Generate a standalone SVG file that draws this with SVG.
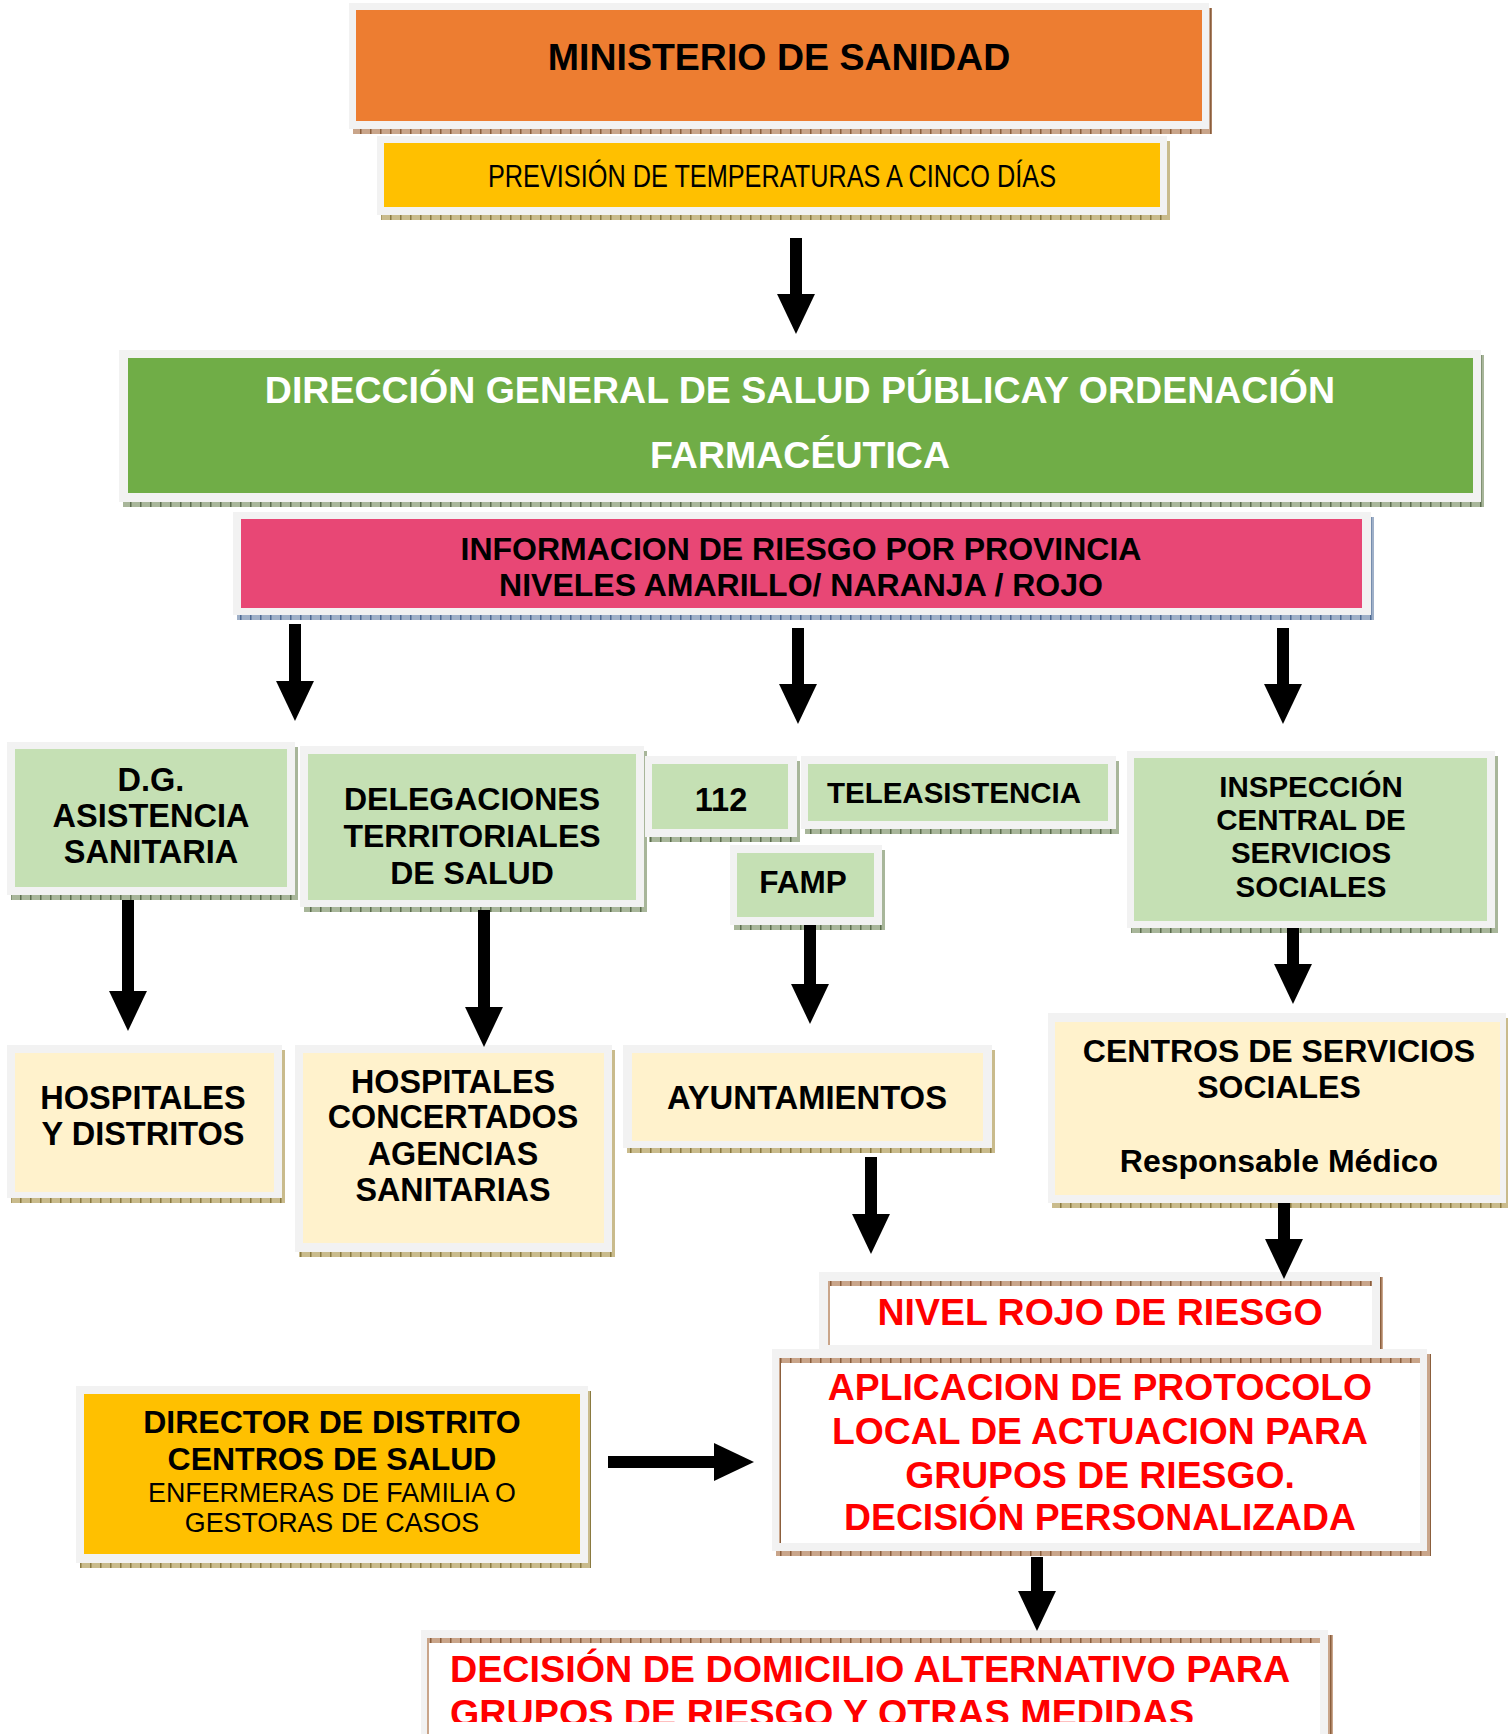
<svg xmlns="http://www.w3.org/2000/svg" width="1508" height="1734" viewBox="0 0 1508 1734">
<style>
.frame{fill:#F2F2F2}
.t{font-family:"Liberation Sans",Arial,sans-serif;font-weight:700;text-anchor:middle;fill:#000}
.r{font-family:"Liberation Sans",Arial,sans-serif;font-weight:400;text-anchor:middle;fill:#000}
.red{fill:#FF0000}
.wht{fill:#FFFFFF}
.orange{fill:#ED7D31}
.yellow{fill:#FFC000}
.green{fill:#70AD47}
.pink{fill:#E84775}
.lgreen{fill:#C5E0B4}
.cream{fill:#FFF2CC}
.white{fill:#FFFFFF}
.sb{fill:url(#pBrown)}
.sk{fill:url(#pKhaki)}
.sg{fill:url(#pGreen)}
.sl{fill:url(#pBlue)}
.conn line{stroke:#000;stroke-width:12;marker-end:url(#head)}
</style>
<defs>
<pattern id="pBrown" width="10" height="6" patternUnits="userSpaceOnUse"><rect width="10" height="6" fill="#C9A58A"/><rect width="1.5" height="6" fill="#8B5E3C"/></pattern>
<pattern id="pKhaki" width="10" height="6" patternUnits="userSpaceOnUse"><rect width="10" height="6" fill="#C9BB8C"/><rect width="1.5" height="6" fill="#8A7A40"/></pattern>
<pattern id="pGreen" width="10" height="6" patternUnits="userSpaceOnUse"><rect width="10" height="6" fill="#A8B69A"/><rect width="1.5" height="6" fill="#5C6E4E"/></pattern>
<pattern id="pBlue" width="10" height="6" patternUnits="userSpaceOnUse"><rect width="10" height="6" fill="#9FB0C8"/><rect width="1.5" height="6" fill="#4E6A94"/></pattern>
<marker id="head" markerUnits="userSpaceOnUse" markerWidth="40" markerHeight="38" viewBox="0 0 38 36" refX="0" refY="18" orient="auto"><path d="M0,0 L38,18 L0,36 z" fill="#000"/></marker>
<clipPath id="clipDec"><rect x="429" y="1638" width="891" height="84"/></clipPath>
</defs>

<g id="ministerio">
<rect class="sb" x="353" y="8" width="859" height="126"/>
<rect class="frame" x="349" y="3" width="860" height="126"/>
<rect class="orange" x="356" y="10" width="846" height="111"/>
<text class="t" x="779" y="70" font-size="37.5">MINISTERIO DE SANIDAD</text>
</g>

<g id="prevision">
<rect class="sk" x="381" y="141" width="789" height="79"/>
<rect class="frame" x="377" y="136" width="790" height="79"/>
<rect class="yellow" x="384" y="143" width="776" height="64"/>
<text class="r" x="772" y="187" font-size="32" textLength="568" lengthAdjust="spacingAndGlyphs">PREVISIÓN DE TEMPERATURAS A CINCO DÍAS</text>
</g>

<g id="dgsp">
<rect class="sg" x="123" y="355" width="1361" height="152"/>
<rect class="frame" x="119" y="350" width="1362" height="152"/>
<rect class="green" x="128" y="358" width="1345" height="135"/>
<text class="t wht" x="800" y="403" font-size="37.5">DIRECCIÓN GENERAL DE SALUD PÚBLICAY ORDENACIÓN</text>
<text class="t wht" x="800" y="468" font-size="37.5">FARMACÉUTICA</text>
</g>

<g id="informacion">
<rect class="sl" x="237" y="517" width="1137" height="103"/>
<rect class="frame" x="233" y="512" width="1138" height="103"/>
<rect class="pink" x="241" y="519" width="1121" height="89"/>
<text class="t" x="801" y="560" font-size="32">INFORMACION DE RIESGO POR PROVINCIA</text>
<text class="t" x="801" y="596" font-size="32">NIVELES AMARILLO/ NARANJA / ROJO</text>
</g>

<g id="dg-asistencia">
<rect class="sg" x="11" y="747" width="287" height="153"/>
<rect class="frame" x="7" y="742" width="288" height="153"/>
<rect class="lgreen" x="15" y="749" width="272" height="138"/>
<text class="t" x="151" y="791" font-size="32.5">D.G.</text>
<text class="t" x="151" y="827" font-size="32.5">ASISTENCIA</text>
<text class="t" x="151" y="863" font-size="32.5">SANITARIA</text>
</g>

<g id="delegaciones">
<rect class="sg" x="304" y="751" width="343" height="161"/>
<rect class="frame" x="300" y="746" width="344" height="161"/>
<rect class="lgreen" x="308" y="754" width="328" height="146"/>
<text class="t" x="472" y="810" font-size="32">DELEGACIONES</text>
<text class="t" x="472" y="847" font-size="32">TERRITORIALES</text>
<text class="t" x="472" y="884" font-size="32">DE SALUD</text>
</g>

<g id="n112">
<rect class="sg" x="649" y="761" width="151" height="81"/>
<rect class="frame" x="645" y="756" width="152" height="81"/>
<rect class="lgreen" x="652" y="764" width="136" height="65"/>
<text class="t" x="721" y="811" font-size="32.5">112</text>
</g>

<g id="teleasistencia">
<rect class="sg" x="805" y="761" width="314" height="73"/>
<rect class="frame" x="801" y="756" width="315" height="73"/>
<rect class="lgreen" x="808" y="764" width="300" height="57"/>
<text class="t" x="954" y="803" font-size="29.5">TELEASISTENCIA</text>
</g>

<g id="famp">
<rect class="sg" x="734" y="850" width="151" height="80"/>
<rect class="frame" x="730" y="845" width="152" height="80"/>
<rect class="lgreen" x="737" y="853" width="137" height="64"/>
<text class="t" x="803" y="893" font-size="31.5">FAMP</text>
</g>

<g id="inspeccion">
<rect class="sg" x="1131" y="756" width="367" height="177"/>
<rect class="frame" x="1127" y="751" width="368" height="177"/>
<rect class="lgreen" x="1134" y="758" width="353" height="163"/>
<text class="t" x="1311" y="797" font-size="29.5">INSPECCIÓN</text>
<text class="t" x="1311" y="830" font-size="29.5">CENTRAL DE</text>
<text class="t" x="1311" y="863" font-size="29.5">SERVICIOS</text>
<text class="t" x="1311" y="897" font-size="29.5">SOCIALES</text>
</g>

<g id="hospitales">
<rect class="sk" x="11" y="1050" width="274" height="153"/>
<rect class="frame" x="7" y="1045" width="275" height="153"/>
<rect class="cream" x="15" y="1053" width="259" height="139"/>
<text class="t" x="143" y="1109" font-size="32.5">HOSPITALES</text>
<text class="t" x="143" y="1145" font-size="32.5">Y DISTRITOS</text>
</g>

<g id="hospitales-concertados">
<rect class="sk" x="299" y="1050" width="316" height="207"/>
<rect class="frame" x="295" y="1045" width="317" height="207"/>
<rect class="cream" x="303" y="1053" width="301" height="190"/>
<text class="t" x="453" y="1093" font-size="32.3">HOSPITALES</text>
<text class="t" x="453" y="1128" font-size="32.3">CONCERTADOS</text>
<text class="t" x="453" y="1165" font-size="32.3">AGENCIAS</text>
<text class="t" x="453" y="1201" font-size="32.3">SANITARIAS</text>
</g>

<g id="ayuntamientos">
<rect class="sk" x="627" y="1050" width="368" height="103"/>
<rect class="frame" x="623" y="1045" width="369" height="103"/>
<rect class="cream" x="632" y="1053" width="351" height="88"/>
<text class="t" x="807" y="1109" font-size="32.8">AYUNTAMIENTOS</text>
</g>

<g id="centros-servicios">
<rect class="sk" x="1052" y="1018" width="457" height="190"/>
<rect class="frame" x="1048" y="1013" width="458" height="190"/>
<rect class="cream" x="1055" y="1022" width="445" height="173"/>
<text class="t" x="1279" y="1062" font-size="32">CENTROS DE SERVICIOS</text>
<text class="t" x="1279" y="1098" font-size="32">SOCIALES</text>
<text class="t" x="1279" y="1172" font-size="32">Responsable Médico</text>
</g>

<g id="nivel-rojo">
<rect class="sb" x="823" y="1277" width="560" height="77"/>
<rect class="frame" x="819" y="1272" width="561" height="77"/>
<rect class="white" x="830" y="1281" width="542" height="64"/>
<rect class="sb" x="830" y="1281" width="542" height="5"/>
<rect class="sb" x="828" y="1281" width="2" height="64"/>
<text class="t red" x="1100" y="1325" font-size="37.5">NIVEL ROJO DE RIESGO</text>
</g>

<g id="aplicacion">
<rect class="sb" x="776" y="1354" width="655" height="202"/>
<rect class="frame" x="772" y="1349" width="655" height="202"/>
<rect class="white" x="781" y="1358" width="639" height="185"/>
<rect class="sb" x="781" y="1358" width="639" height="5"/>
<rect class="sb" x="779" y="1358" width="2" height="185"/>
<text class="t red" x="1100" y="1400" font-size="37.3">APLICACION DE PROTOCOLO</text>
<text class="t red" x="1100" y="1444" font-size="37.3">LOCAL DE ACTUACION PARA</text>
<text class="t red" x="1100" y="1488" font-size="37.3">GRUPOS DE RIESGO.</text>
<text class="t red" x="1100" y="1530" font-size="37.3">DECISIÓN PERSONALIZADA</text>
</g>

<g id="director">
<rect class="sk" x="80" y="1391" width="511" height="177"/>
<rect class="frame" x="76" y="1386" width="512" height="177"/>
<rect class="yellow" x="84" y="1394" width="496" height="160"/>
<text class="t" x="332" y="1433" font-size="32">DIRECTOR DE DISTRITO</text>
<text class="t" x="332" y="1470" font-size="32">CENTROS DE SALUD</text>
<text class="r" x="332" y="1502" font-size="26.8">ENFERMERAS DE FAMILIA O</text>
<text class="r" x="332" y="1532" font-size="26.8">GESTORAS DE CASOS</text>
</g>

<g id="decision">
<rect class="sb" x="425" y="1635" width="908" height="110"/>
<rect class="frame" x="421" y="1630" width="907" height="110"/>
<rect class="white" x="429" y="1638" width="891" height="100"/>
<rect class="sb" x="429" y="1638" width="891" height="5"/>
<rect class="sb" x="427" y="1638" width="2" height="100"/>
<g clip-path="url(#clipDec)">
<text class="t red" x="450" y="1682" font-size="37.7" style="text-anchor:start">DECISIÓN DE DOMICILIO ALTERNATIVO PARA</text>
<text class="t red" x="450" y="1726" font-size="37.7" style="text-anchor:start">GRUPOS DE RIESGO Y OTRAS MEDIDAS</text>
</g>
</g>

<g id="connectors" class="conn">
<line x1="796" y1="238" x2="796" y2="294"/>
<line x1="295" y1="624" x2="295" y2="681"/>
<line x1="798" y1="628" x2="798" y2="684"/>
<line x1="1283" y1="628" x2="1283" y2="684"/>
<line x1="128" y1="900" x2="128" y2="991"/>
<line x1="484" y1="910" x2="484" y2="1007"/>
<line x1="810" y1="925" x2="810" y2="984"/>
<line x1="1293" y1="928" x2="1293" y2="964"/>
<line x1="871" y1="1157" x2="871" y2="1214"/>
<line x1="1284" y1="1203" x2="1284" y2="1239"/>
<line x1="608" y1="1462" x2="714" y2="1462"/>
<line x1="1037" y1="1557" x2="1037" y2="1591"/>
</g>
</svg>
